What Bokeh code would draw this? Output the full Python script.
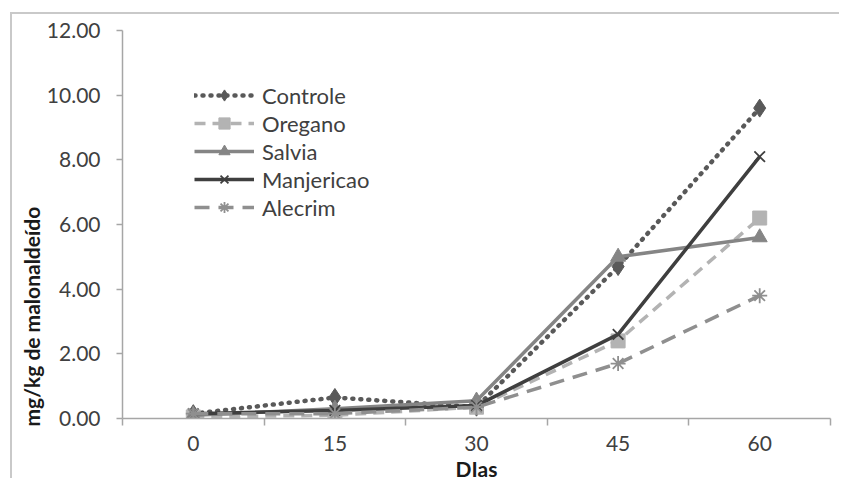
from bokeh.plotting import figure
from bokeh.models import (Range1d, FixedTicker, Legend, LegendItem, Title,
                          NumeralTickFormatter)
from bokeh.embed import file_html
from bokeh.resources import INLINE

# Sampling days and malonaldehyde content (mg/kg) per treatment
dias = ["0", "15", "30", "45", "60"]
controle = [0.15, 0.65, 0.35, 4.70, 9.60]
oregano = [0.05, 0.10, 0.35, 2.40, 6.20]
salvia = [0.10, 0.30, 0.55, 5.00, 5.60]
manjericao = [0.15, 0.25, 0.40, 2.60, 8.10]
alecrim = [0.15, 0.15, 0.35, 1.70, 3.80]
y_ticks = [0, 2, 4, 6, 8, 10, 12]

xs = list(range(len(dias)))
FONT = "Lato"
TXT = "#404040"
AXIS = "#a6a6a6"

W, H = 829, 466
p = figure(width=W, height=H, output_backend="svg", toolbar_location=None,
           x_range=Range1d(-0.5, len(dias) - 0.5), y_range=Range1d(0, 12),
           min_border_left=110, min_border_right=11, min_border_top=16,
           min_border_bottom=62, margin=(12, 0, 0, 10),
           styles={"border-top": "2px solid #c9c9c9",
                   "border-left": "2px solid #c9c9c9"})
p.outline_line_color = None
p.xgrid.visible = False
p.ygrid.visible = False
p.background_fill_color = "white"
p.border_fill_color = "white"

# x axis: labels at category centres, tick marks at category boundaries
xa = p.xaxis[0]
xa.ticker = FixedTicker(ticks=xs, minor_ticks=[i - 0.5 for i in range(len(dias) + 1)])
xa.major_label_overrides = {i: d for i, d in enumerate(dias)}
xa.major_tick_out = 0
xa.major_tick_in = 0
xa.minor_tick_out = 7
xa.minor_tick_in = 0
xa.minor_tick_line_color = AXIS
xa.minor_tick_line_width = 1.5
xa.axis_line_color = AXIS
xa.axis_line_width = 1.5
xa.major_label_standoff = 10
xa.major_label_text_font = FONT
xa.major_label_text_font_size = "21px"
xa.major_label_text_line_height = 1.0
xa.major_label_text_color = TXT

ya = p.yaxis[0]
ya.ticker = FixedTicker(ticks=y_ticks, minor_ticks=[])
ya.formatter = NumeralTickFormatter(format="0.00")
ya.major_tick_out = 6
ya.major_tick_in = 0
ya.major_tick_line_color = AXIS
ya.major_tick_line_width = 1.5
ya.axis_line_color = AXIS
ya.axis_line_width = 1.5
ya.major_label_standoff = 16
ya.major_label_text_font = FONT
ya.major_label_text_font_size = "21px"
ya.major_label_text_color = TXT

series = [
    ("Controle", controle, "#595959", "dotted", "diamond", 18),
    ("Oregano", oregano, "#b3b3b3", "dashed", "square", 14),
    ("Salvia", salvia, "#858585", "solid", "triangle", 15),
    ("Manjericao", manjericao, "#3f3f3f", "solid", "x", 15),
    ("Alecrim", alecrim, "#8f8f8f", "dashed2", "asterisk", 15),
]

items = []
for name, ys, col, style, marker, size in series:
    kw = dict(line_color=col, line_width=3.5)
    if style == "dotted":
        kw.update(line_dash="1 7", line_cap="round", line_width=4.5)
    elif style == "dashed":
        kw.update(line_dash="11 7")
    elif style == "dashed2":
        kw.update(line_dash="15 9")
    ln = p.line(xs, ys, **kw)
    if marker in ("x", "asterisk"):
        sc = p.scatter(xs, ys, marker=marker, size=size, line_color=col,
                       line_width=1.8)
    else:
        sc = p.scatter(xs, ys, marker=marker, size=size, fill_color=col,
                       line_color=col)
    items.append(LegendItem(label=name, renderers=[ln, sc]))

legend = Legend(items=items, location=(72, 197), padding=0, margin=0,
                spacing=0, glyph_width=60, glyph_height=28, label_height=20,
                label_standoff=8, border_line_color=None,
                background_fill_alpha=0, label_text_font=FONT,
                label_text_font_size="22px", label_text_color=TXT)
p.add_layout(legend, "center")

# axis titles as side titles, shifted along their panels
p.add_layout(Title(text="mg/kg de malonaldeído", align="left", offset=-8,
                   text_font=FONT, text_font_style="bold",
                   text_font_size="21px", text_color="#1a1a1a",
                   text_line_height=1.0, standoff=0), "left")
p.add_layout(Title(text="DIas", align="center", offset=-52,
                   text_font=FONT, text_font_style="bold",
                   text_font_size="21px", text_color="#1a1a1a",
                   text_line_height=1.0, standoff=0), "below")

open("out.html", "w").write(file_html(p, INLINE))
